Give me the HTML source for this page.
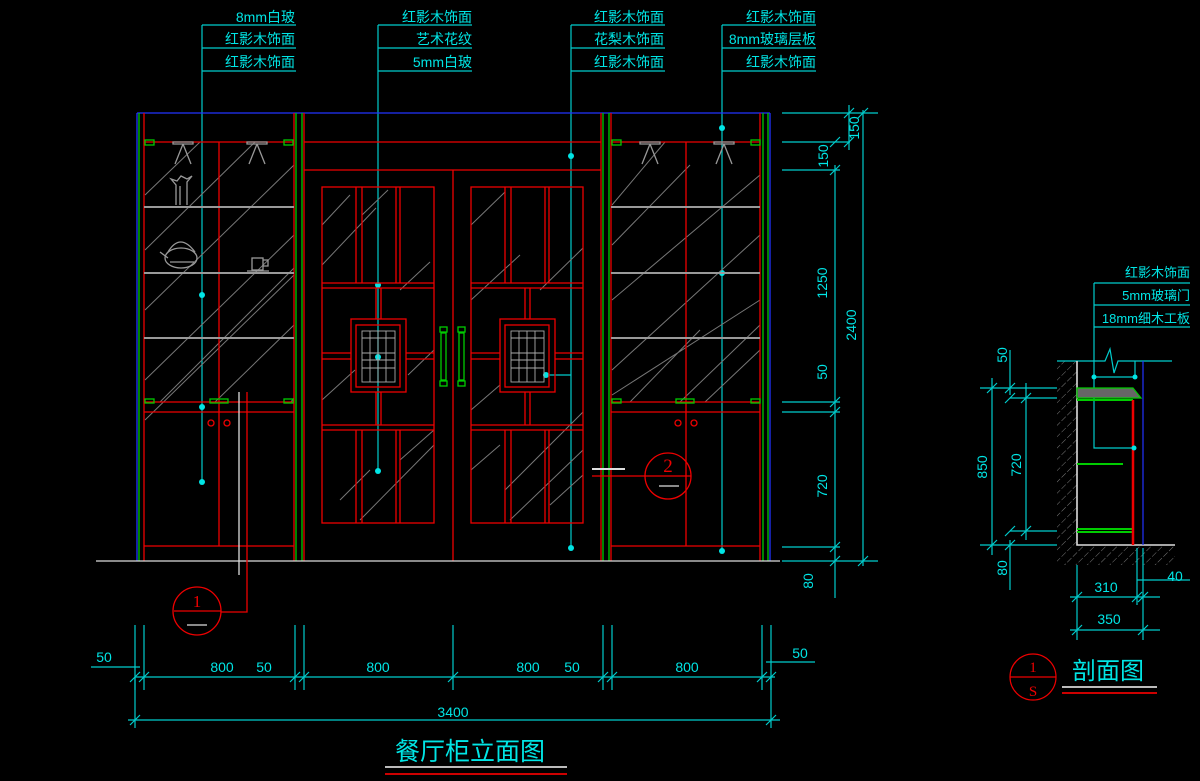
<!DOCTYPE html>
<html><head><meta charset="utf-8"><style>
html,body{margin:0;padding:0;background:#000;}
svg{display:block;}
text{font-family:"Liberation Sans","Noto Sans CJK SC",sans-serif;fill:#00e5e5;}
</style></head><body>
<svg width="1200" height="781" viewBox="0 0 1200 781" xmlns="http://www.w3.org/2000/svg">
<rect width="1200" height="781" fill="#000"/>
<defs>
<pattern id="hatch" width="8" height="8" patternUnits="userSpaceOnUse" patternTransform="rotate(45)">
<line x1="0" y1="0" x2="0" y2="8" stroke="#999" stroke-width="0.8" stroke-dasharray="3 2"/>
</pattern>
</defs>

<!-- top labels -->
<g font-size="14" text-anchor="end">
<text x="295" y="22">8mm白玻</text><text x="295" y="44">红影木饰面</text><text x="295" y="67">红影木饰面</text>
<text x="472" y="22">红影木饰面</text><text x="472" y="44">艺术花纹</text><text x="472" y="67">5mm白玻</text>
<text x="664" y="22">红影木饰面</text><text x="664" y="44">花梨木饰面</text><text x="664" y="67">红影木饰面</text>
<text x="816" y="22">红影木饰面</text><text x="816" y="44">8mm玻璃层板</text><text x="816" y="67">红影木饰面</text>
</g>
<g stroke="#00cccc" stroke-width="1.2" fill="none">
<path d="M202 25H296M202 48H296M202 71H296M202 25V482"/>
<path d="M378 25H472M378 48H472M378 71H472M378 25V471"/>
<path d="M571 25H665M571 48H665M571 71H665M571 25V548M571 375H546"/>
<path d="M722 25H816M722 48H816M722 71H816M722 25V551"/>
</g>
<g fill="#00e5e5">
<circle cx="202" cy="295" r="3"/><circle cx="202" cy="407" r="3"/><circle cx="202" cy="482" r="3"/>
<circle cx="378" cy="285" r="3"/><circle cx="378" cy="357" r="3"/><circle cx="378" cy="471" r="3"/>
<circle cx="571" cy="156" r="3"/><circle cx="571" cy="548" r="3"/><circle cx="546" cy="375" r="3"/>
<circle cx="722" cy="128" r="3"/><circle cx="722" cy="273" r="3"/><circle cx="722" cy="551" r="3"/>
</g>

<!-- glass diagonals -->
<g stroke="#777" stroke-width="1">
<path d="M145 195L200 142M145 250L255 142M145 310L294 165M145 380L294 235M145 420L294 275M290 403L294 398M215 402L294 325M160 402L294 268"/>
<path d="M612 205L665 142M612 245L690 165M612 300L760 175M612 370L760 235M612 395L760 300M680 402L760 325M630 402L700 330M705 402L760 350"/>
<path d="M322 225L350 195M322 265L376 208M362 215L388 190M322 400L355 370M360 520L434 445M340 500L370 470M434 350L408 375M400 290L430 262M400 460L434 430"/>
<path d="M471 225L505 192M471 300L520 255M540 290L583 248M471 410L500 385M510 520L583 450M505 490L583 412M471 470L500 445M550 505L583 475"/>
</g>

<!-- cabinet main frame -->
<g fill="none" stroke-width="1.3">
<line x1="137" y1="113" x2="770" y2="113" stroke="#2233ff"/>
<line x1="137" y1="113" x2="137" y2="561" stroke="#2233ff"/>
<line x1="139" y1="113" x2="139" y2="561" stroke="#00cc00"/>
<line x1="770" y1="113" x2="770" y2="561" stroke="#2233ff"/>
<line x1="768" y1="113" x2="768" y2="561" stroke="#00cc00"/>
<g stroke="#00cc00">
<line x1="296" y1="113" x2="296" y2="561"/><line x1="302" y1="113" x2="302" y2="561"/>
<line x1="603" y1="113" x2="603" y2="561"/><line x1="609" y1="113" x2="609" y2="561"/>
<line x1="763" y1="113" x2="763" y2="561"/>
</g>
<g stroke="#ee0000">
<line x1="144" y1="113" x2="144" y2="561"/><line x1="294" y1="113" x2="294" y2="561"/>
<line x1="304" y1="113" x2="304" y2="561"/><line x1="601" y1="113" x2="601" y2="561"/>
<line x1="611" y1="113" x2="611" y2="561"/><line x1="760" y1="113" x2="760" y2="561"/>
<path d="M144 142H294M144 402H294M144 412H294M144 546H294M219 142V546"/>
<path d="M611 142H760M611 402H760M611 412H760M611 546H760M686 142V546"/>
<path d="M304 142H601M304 170H601M453 170V561"/>
<circle cx="211" cy="423" r="3"/><circle cx="227" cy="423" r="3"/>
<circle cx="678" cy="423" r="3"/><circle cx="694" cy="423" r="3"/>
</g>
<!-- shelves -->
<g stroke="#999" stroke-width="2">
<path d="M144 207H294M144 273H294M144 338H294M611 207H760M611 273H760M611 338H760"/>
</g>
<!-- green clips -->
<g stroke="#00cc00">
<rect x="145" y="140" width="9" height="5"/><rect x="284" y="140" width="9" height="5"/>
<rect x="145" y="399" width="9" height="4"/><rect x="284" y="399" width="9" height="4"/><rect x="210" y="399" width="18" height="4"/>
<rect x="612" y="140" width="9" height="5"/><rect x="751" y="140" width="9" height="5"/>
<rect x="612" y="399" width="9" height="4"/><rect x="751" y="399" width="9" height="4"/><rect x="676" y="399" width="18" height="4"/>
</g>
<!-- lamps -->
<g stroke="#999">
<path d="M173 142h20v2h-20zM183 144l-8 20M183 144l8 20"/>
<path d="M247 142h20v2h-20zM257 144l-8 20M257 144l8 20"/>
<path d="M640 142h20v2h-20zM650 144l-8 20M650 144l8 20"/>
<path d="M714 142h20v2h-20zM724 144l-8 20M724 144l8 20"/>
<path d="M176 205v-20l-5-6 6 2 4-5 6 3 5-3-5 6v23M180 186v19"/>
<ellipse cx="181" cy="258" rx="16" ry="10"/><path d="M168 258l-8-6M170 262h24"/><path d="M168 252q12-20 27 0"/>
<rect x="252" y="258" width="11" height="12"/><path d="M263 260h5v6h-5M247 271h22"/>
</g>
<!-- door -->
<g stroke="#ee0000">
<rect x="322" y="187" width="112" height="336"/><rect x="471" y="187" width="112" height="336"/>
<path d="M322 283H434M322 288H434M322 425H434M322 430H434M356 187V283M362 187V283M396 187V283M400 187V283M356 430V523M362 430V523M396 430V523M400 430V523"/>
<path d="M471 283H583M471 288H583M471 425H583M471 430H583M505 187V283M511 187V283M545 187V283M549 187V283M505 430V523M511 430V523M545 430V523M549 430V523"/>
<path d="M322 353H351M322 359H351M406 353H434M406 359H434M376 288V319M381 288V319M376 392V425M381 392V425"/>
<path d="M471 353H500M471 359H500M555 353H583M555 359H583M525 288V319M530 288V319M525 392V425M530 392V425"/>
<rect x="351" y="319" width="55" height="73"/><rect x="356" y="325" width="44" height="62"/>
<rect x="500" y="319" width="55" height="73"/><rect x="505" y="325" width="44" height="62"/>
</g>
<g stroke="#aaa" stroke-width="0.9">
<rect x="362" y="331" width="33" height="51"/><rect x="511" y="331" width="33" height="51"/>
<path d="M362 338H395M362 353H395M362 360H395M362 368H395M370 331V382M378 331V382M386 331V382"/>
<path d="M511 338H544M511 353H544M511 360H544M511 368H544M519 331V382M527 331V382M535 331V382"/>
</g>
<g stroke="#00cc00">
<rect x="441" y="333" width="5" height="47"/><rect x="459" y="333" width="5" height="47"/>
<rect x="440" y="327" width="7" height="5"/><rect x="458" y="327" width="7" height="5"/>
<rect x="440" y="381" width="7" height="5"/><rect x="458" y="381" width="7" height="5"/>
</g>
<!-- floor -->
<line x1="96" y1="561" x2="780" y2="561" stroke="#ddd"/>
<!-- section mark 1 -->
<line x1="239" y1="392" x2="239" y2="575" stroke="#ddd"/>
<path d="M247 392V612H221" stroke="#ee0000"/>
<circle cx="197" cy="611" r="24" stroke="#ee0000"/>
<line x1="174" y1="611" x2="221" y2="611" stroke="#ee0000"/>
<line x1="187" y1="625" x2="207" y2="625" stroke="#ddd"/>
<!-- mark 2 -->
<line x1="592" y1="469" x2="625" y2="469" stroke="#ddd" stroke-width="2"/>
<line x1="592" y1="476" x2="691" y2="476" stroke="#ee0000"/>
<circle cx="668" cy="476" r="23" stroke="#ee0000"/>
<line x1="659" y1="486" x2="679" y2="486" stroke="#ddd"/>
</g>
<text x="197" y="607" font-size="17" text-anchor="middle" style="fill:#ee0000;font-family:'Liberation Serif',serif">1</text>
<text x="668" y="472" font-size="19" text-anchor="middle" style="fill:#ee0000;font-family:'Liberation Serif',serif">2</text>

<!-- right dims -->
<g stroke="#00cccc" stroke-width="1.2" fill="none">
<path d="M782 113H878M782 142H850M782 170H840M782 402H840M782 412H840M782 547H840M782 561H878"/>
<path d="M849 105V150M835 165V598M863 110V566"/>
<path d="M844 118l10-10M830 147l10-10M844 147l10-10M830 175l10-10M830 407l10-10M830 417l10-10M830 552l10-10M830 566l10-10M858 118l10-10M858 566l10-10"/>
</g>
<g font-size="14">
<text transform="translate(828,156) rotate(-90)" text-anchor="middle">150</text>
<text transform="translate(859,128) rotate(-90)" text-anchor="middle">150</text>
<text transform="translate(827,283) rotate(-90)" text-anchor="middle">1250</text>
<text transform="translate(856,325) rotate(-90)" text-anchor="middle">2400</text>
<text transform="translate(827,372) rotate(-90)" text-anchor="middle">50</text>
<text transform="translate(827,486) rotate(-90)" text-anchor="middle">720</text>
<text transform="translate(813,581) rotate(-90)" text-anchor="middle">80</text>
</g>

<!-- bottom dims -->
<g stroke="#00cccc" stroke-width="1.2" fill="none">
<path d="M135 625V690M144 625V690M295 625V690M304 625V690M453 625V690M603 625V690M612 625V690M762 625V690M771 625V690"/>
<path d="M91 667H140M766 662H815M135 677H775M128 720H780M135 677V728M771 677V728"/>
<path d="M130 682l10-10M139 682l10-10M290 682l10-10M299 682l10-10M448 682l10-10M598 682l10-10M607 682l10-10M757 682l10-10M766 682l10-10M130 725l10-10M766 725l10-10"/>
</g>
<g font-size="14" text-anchor="middle">
<text x="104" y="662">50</text><text x="222" y="672">800</text><text x="264" y="672">50</text>
<text x="378" y="672">800</text><text x="528" y="672">800</text><text x="572" y="672">50</text>
<text x="687" y="672">800</text><text x="800" y="658">50</text><text x="453" y="717">3400</text>
</g>
<text x="470" y="760" font-size="25" text-anchor="middle">餐厅柜立面图</text>
<line x1="385" y1="767" x2="567" y2="767" stroke="#bbb" stroke-width="2"/>
<line x1="385" y1="774" x2="567" y2="774" stroke="#cc0000" stroke-width="2"/>

<!-- section view -->
<g font-size="13" text-anchor="end">
<text x="1190" y="277">红影木饰面</text><text x="1190" y="300">5mm玻璃门</text><text x="1190" y="323">18mm细木工板</text>
</g>
<rect x="1057" y="361" width="20" height="184" fill="url(#hatch)"/>
<rect x="1057" y="545" width="118" height="20" fill="url(#hatch)"/>
<g fill="none" stroke-width="1.2">
<path d="M1094 283H1190M1094 305H1190M1094 327H1190M1094 283V448H1134M1094 377H1135" stroke="#00cccc"/>
<path d="M1057 361H1105l5-12 4 24 4-12H1172M1135 361V377" stroke="#00cccc"/>
<path d="M1077 361V545H1175" stroke="#ddd" stroke-width="1.6"/>
<path d="M1077 388H1133l8 10H1077z" stroke="#00cc00" fill="#666"/>
<path d="M1077 400H1133M1077 464H1123M1077 529H1133M1077 532H1133" stroke="#00cc00" stroke-width="2"/>
<path d="M1133 400V545" stroke="#ee0000" stroke-width="2.5"/>
<path d="M1143 361V545" stroke="#2233ff"/>
<path d="M980 388H1057M1010 398H1057M1010 531H1057M980 545H1057M992 378V555M1026 383V540M1010 350V395M1010 540V590" stroke="#00cccc"/>
<path d="M987 393l10-10M1005 393l10-10M1005 403l10-10M1021 403l10-10M1005 536l10-10M1021 536l10-10M987 550l10-10M1005 550l10-10" stroke="#00cccc"/>
<path d="M1077 565V640M1137 548V605M1143 548V640M1070 597H1160M1070 630H1160M1137 580H1190" stroke="#00cccc"/>
<path d="M1072 602l10-10M1132 602l10-10M1138 602l10-10M1072 635l10-10M1138 635l10-10" stroke="#00cccc"/>
</g>
<g fill="#00e5e5"><circle cx="1094" cy="377" r="2.5"/><circle cx="1135" cy="377" r="2.5"/><circle cx="1134" cy="448" r="2.5"/></g>
<g font-size="14">
<text transform="translate(1007,355) rotate(-90)" text-anchor="middle">50</text>
<text transform="translate(987,467) rotate(-90)" text-anchor="middle">850</text>
<text transform="translate(1021,465) rotate(-90)" text-anchor="middle">720</text>
<text transform="translate(1007,568) rotate(-90)" text-anchor="middle">80</text>
<text x="1106" y="592" text-anchor="middle">310</text>
<text x="1109" y="624" text-anchor="middle">350</text>
<text x="1175" y="581" text-anchor="middle">40</text>
</g>
<circle cx="1033" cy="677" r="23" fill="none" stroke="#ee0000" stroke-width="1.2"/>
<line x1="1010" y1="677" x2="1056" y2="677" stroke="#ee0000" stroke-width="1.2"/>
<text x="1033" y="672" font-size="15" text-anchor="middle" style="fill:#ee0000;font-family:'Liberation Serif',serif">1</text>
<text x="1033" y="696" font-size="15" text-anchor="middle" style="fill:#ee0000;font-family:'Liberation Serif',serif">S</text>
<text x="1108" y="679" font-size="24" text-anchor="middle">剖面图</text>
<line x1="1062" y1="687" x2="1157" y2="687" stroke="#bbb" stroke-width="2"/>
<line x1="1062" y1="693" x2="1157" y2="693" stroke="#cc0000" stroke-width="2"/>
</svg>
</body></html>
